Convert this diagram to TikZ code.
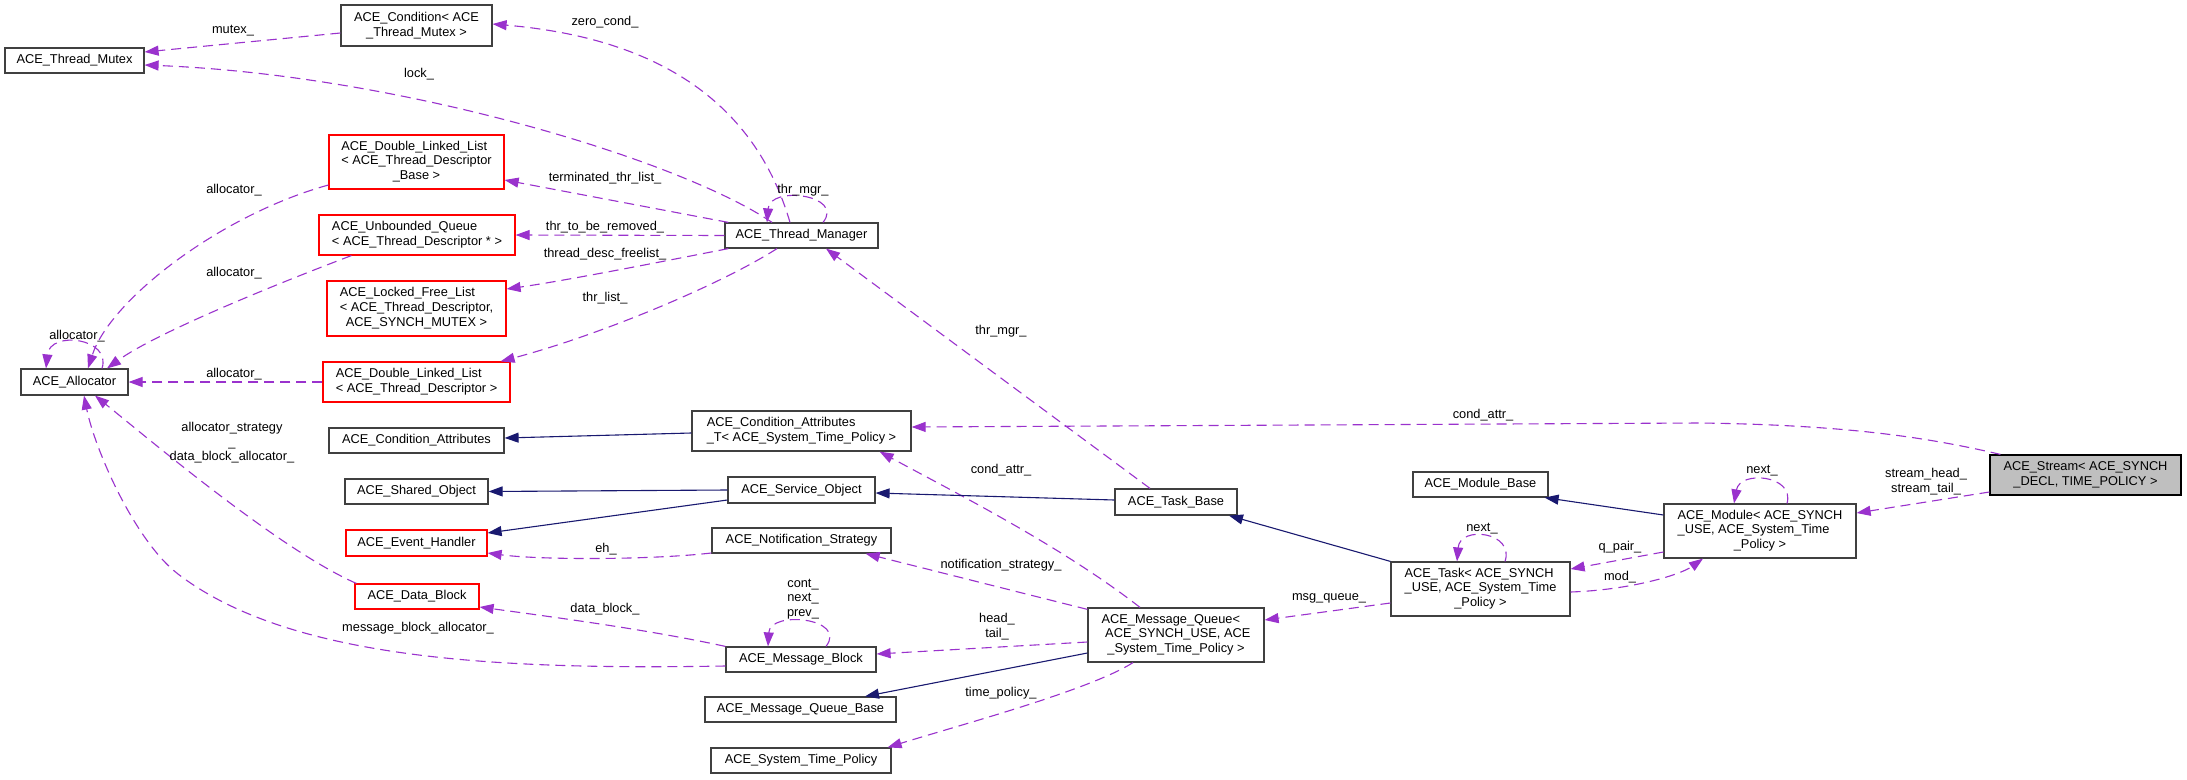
\documentclass[tikz,border=0pt]{standalone}
\usepackage{fontspec}
\setmainfont{Liberation Sans}
\usetikzlibrary{arrows.meta}
\definecolor{orchid}{RGB}{154,50,205}
\definecolor{mblue}{RGB}{25,25,112}
\definecolor{boxgray}{RGB}{64,64,64}
\definecolor{streamfill}{RGB}{191,191,191}
\newcommand{\lc}[1]{\multicolumn{1}{@{}c@{}}{#1}}
\newcommand{\boxtxt}[1]{\begin{tabular}{@{}l@{}}#1\end{tabular}}
\tikzset{
  box/.style={draw=boxgray, line width=1.2pt, fill=white, inner sep=0pt, align=center},
  redbox/.style={box, draw=red},
  use/.style={draw=orchid, line width=1.1pt, dash pattern=on 10pt off 6pt, -{Triangle[length=14pt,width=10pt]}},
  inh/.style={draw=mblue, line width=1.1pt, -{Triangle[length=14pt,width=10pt]}},
  lbl/.style={inner sep=0pt, align=center}
}
\begin{document}
\begin{tikzpicture}[x=1pt,y=-1pt,font=\fontsize{12.8pt}{14.6pt}\selectfont]
\fill[white] (0,0) rectangle (2187,779);
\useasboundingbox (0,0) rectangle (2187,779);

% ---- nodes ----
\node[box, minimum width=139pt, minimum height=25pt] (tmutex) at (74.5,60.5) {ACE\_Thread\_Mutex};
\node[box, minimum width=151pt, minimum height=41pt] (cond) at (416.5,25.5) {ACE\_Condition< ACE\\\_Thread\_Mutex >};
\node[redbox, minimum width=175pt, minimum height=54pt] (dllb) at (416.5,162) {\boxtxt{ACE\_Double\_Linked\_List\\< ACE\_Thread\_Descriptor\\\lc{\_Base >}}};
\node[redbox, minimum width=196pt, minimum height=40pt] (uq) at (417,235) {\boxtxt{ACE\_Unbounded\_Queue\\< ACE\_Thread\_Descriptor * >}};
\node[redbox, minimum width=179pt, minimum height=55pt] (lfl) at (416.5,308.5) {\boxtxt{ACE\_Locked\_Free\_List\\< ACE\_Thread\_Descriptor,\\\lc{ACE\_SYNCH\_MUTEX >}}};
\node[box, minimum width=107pt, minimum height=26pt] (alloc) at (74.5,382) {ACE\_Allocator};
\node[redbox, minimum width=187pt, minimum height=40pt] (dlld) at (416.5,382) {\boxtxt{ACE\_Double\_Linked\_List\\< ACE\_Thread\_Descriptor >}};
\node[box, minimum width=175pt, minimum height=25pt] (ca) at (416.5,440.5) {ACE\_Condition\_Attributes};
\node[box, minimum width=143pt, minimum height=25pt] (shobj) at (416.5,491.5) {ACE\_Shared\_Object};
\node[redbox, minimum width=141pt, minimum height=26pt] (eh) at (416.5,543) {ACE\_Event\_Handler};
\node[redbox, minimum width=124pt, minimum height=25pt] (db) at (417,596.5) {ACE\_Data\_Block};
\node[box, minimum width=153pt, minimum height=25pt] (tmgr) at (801.5,235.5) {ACE\_Thread\_Manager};
\node[box, minimum width=219pt, minimum height=40pt] (cat) at (801.5,431) {\boxtxt{ACE\_Condition\_Attributes\\\lc{\_T< ACE\_System\_Time\_Policy >}}};
\node[box, minimum width=147pt, minimum height=26pt] (svc) at (801.5,490) {ACE\_Service\_Object};
\node[box, minimum width=179pt, minimum height=25pt] (ns) at (801.5,540.5) {ACE\_Notification\_Strategy};
\node[box, minimum width=150pt, minimum height=25pt] (mb) at (801,659.5) {ACE\_Message\_Block};
\node[box, minimum width=191pt, minimum height=25pt] (mqb) at (800.5,709.5) {ACE\_Message\_Queue\_Base};
\node[box, minimum width=180pt, minimum height=25pt] (stp) at (801,760.5) {ACE\_System\_Time\_Policy};
\node[box, minimum width=176pt, minimum height=54pt] (mq) at (1176,635) {\boxtxt{ACE\_Message\_Queue<\\\ ACE\_SYNCH\_USE, ACE\\\lc{\_System\_Time\_Policy >}}};
\node[box, minimum width=122pt, minimum height=26pt] (tb) at (1176,502) {ACE\_Task\_Base};
\node[box, minimum width=135pt, minimum height=25pt] (mbase) at (1480.5,484.5) {ACE\_Module\_Base};
\node[box, minimum width=179pt, minimum height=54pt] (task) at (1480.5,589) {\boxtxt{ACE\_Task< ACE\_SYNCH\\\_USE, ACE\_System\_Time\\\lc{\_Policy >}}};
\node[box, minimum width=192pt, minimum height=54pt] (mod) at (1760,531) {\boxtxt{ACE\_Module< ACE\_SYNCH\\\_USE, ACE\_System\_Time\\\lc{\_Policy >}}};
\node[box, draw=black, fill=streamfill, minimum width=191pt, minimum height=40pt] (stream) at (2085.5,475) {ACE\_Stream< ACE\_SYNCH\\\_DECL, TIME\_POLICY >};

% ---- usage edges ----
\draw[use] ([shift={(0,7.5)}]cond.west) -- ([shift={(0,-8.5)}]tmutex.east);
\draw[use] ([shift={(-29.5,0)}]tmgr.north) .. controls (680,160) and (400,75) .. ([shift={(0,4.5)}]tmutex.east);
\draw[use] ([shift={(-11.5,0)}]tmgr.north) .. controls (760,120) and (680,40) .. ([shift={(0,-1.5)}]cond.east);
\draw[use] ([shift={(4,0)}]tmgr.north west) -- ([shift={(0,18)}]dllb.east);
\draw[use] (tmgr.west) -- (uq.east);
\draw[use] ([shift={(4,0)}]tmgr.south west) .. controls (680,258) and (570,280) .. ([shift={(0,-19.5)}]lfl.east);
\draw[use] ([shift={(-24.5,0)}]tmgr.south) .. controls (720,285) and (600,335) .. ([shift={(-10,0)}]dlld.north east);
\draw[use] ([shift={(21.5,0)}]tmgr.north) .. controls (845,195) and (770,185) .. ([shift={(-34.5,0)}]tmgr.north);
\draw[use] ([shift={(-26,0)}]tb.north) -- ([shift={(24.5,0)}]tmgr.south);
\draw[use] ([shift={(0,23)}]dllb.west) .. controls (220,215) and (110,300) .. ([shift={(13.5,0)}]alloc.north);
\draw[use] ([shift={(33,0)}]uq.south west) .. controls (300,275) and (160,330) .. ([shift={(32.5,0)}]alloc.north);
\draw[use] (dlld.west) -- (alloc.east);
\draw[use] ([shift={(27.5,0)}]alloc.north) .. controls (112,338) and (50,330) .. ([shift={(-28.5,0)}]alloc.north);
\draw[use] ([shift={(2,0)}]db.north west) .. controls (280,550) and (150,440) .. ([shift={(20.5,0)}]alloc.south);
\draw[use] ([shift={(0,6.5)}]mb.west) .. controls (500,670) and (290,660) .. (178,574) .. controls (135,541) and (95,450) .. ([shift={(9.5,0)}]alloc.south);
\draw[use] ([shift={(0,12.5)}]ns.west) .. controls (650,560) and (540,560) .. ([shift={(0,10)}]eh.east);
\draw[use] (mb.north west) .. controls (650,630) and (560,618) .. ([shift={(0,10.5)}]db.east);
\draw[use] ([shift={(25,0)}]mb.north) .. controls (848,618) and (770,610) .. ([shift={(-33,0)}]mb.north);
\draw[use] ([shift={(0,7)}]mq.west) -- ([shift={(0,-5.5)}]mb.east);
\draw[use] ([shift={(0,2)}]mq.north west) -- ([shift={(-26,0)}]ns.south east);
\draw[use] ([shift={(-43,0)}]mq.south) .. controls (1090,690) and (960,725) .. ([shift={(-4,0)}]stp.north east);
\draw[use] ([shift={(-36,0)}]mq.north) .. controls (1060,545) and (950,490) .. ([shift={(-32,0)}]cat.south east);
\draw[use] ([shift={(0,14)}]task.west) -- ([shift={(0,-15)}]mq.east);
\draw[use] ([shift={(24.5,0)}]task.north) .. controls (1515,532) and (1460,525) .. ([shift={(-23.5,0)}]task.north);
\draw[use] ([shift={(0,21)}]mod.west) -- ([shift={(0,-20)}]task.east);
\draw[use] ([shift={(0,3)}]task.east) .. controls (1630,590) and (1680,575) .. ([shift={(-57,0)}]mod.south);
\draw[use] ([shift={(27,0)}]mod.north) .. controls (1795,475) and (1740,470) .. ([shift={(-26,0)}]mod.north);
\draw[use] ([shift={(0,17)}]stream.west) -- ([shift={(0,-18)}]mod.east);
\draw[use] ([shift={(11,0)}]stream.north west) .. controls (1930,438) and (1850,425) .. (1700,423) -- ([shift={(0,-4)}]cat.east);

% ---- inheritance edges ----
\draw[inh] ([shift={(0,2)}]cat.west) -- ([shift={(0,-2.5)}]ca.east);
\draw[inh] (svc.west) -- (shobj.east);
\draw[inh] ([shift={(0,10)}]svc.west) -- ([shift={(0,-10)}]eh.east);
\draw[inh] ([shift={(0,-2)}]tb.west) -- ([shift={(0,3)}]svc.east);
\draw[inh] (task.north west) -- ([shift={(53,0)}]tb.south);
\draw[inh] ([shift={(0,-16)}]mod.west) -- ([shift={(-4,0)}]mbase.south east);
\draw[inh] ([shift={(0,18)}]mq.west) -- ([shift={(64.5,0)}]mqb.north);

% ---- labels ----
\node[lbl] (l1) at (233,31) {mutex\_};
\node[lbl] (l2) at (419,74) {lock\_};
\node[lbl] (l3) at (605,22) {zero\_cond\_};
\node[lbl] (l4) at (605,178) {terminated\_thr\_list\_};
\node[lbl] (l5) at (803,190) {thr\_mgr\_};
\node[lbl] (l6) at (605,227) {thr\_to\_be\_removed\_};
\node[lbl] (l7) at (605,254) {thread\_desc\_freelist\_};
\node[lbl] (l8) at (605,298) {thr\_list\_};
\node[lbl] (l9) at (1001,331) {thr\_mgr\_};
\node[lbl] (l10) at (234,190) {allocator\_};
\node[lbl] (l11) at (234,273) {allocator\_};
\node[lbl] (l12) at (77,336) {allocator\_};
\node[lbl] (l13) at (234,374) {allocator\_};
\node[lbl] (l14) at (232,443) {allocator\_strategy\\\_\\data\_block\_allocator\_};
\node[lbl] (l15) at (418,628) {message\_block\_allocator\_};
\node[lbl] (l16) at (1001,470) {cond\_attr\_};
\node[lbl] (l17) at (606,549) {eh\_};
\node[lbl] (l18) at (1001,565) {notification\_strategy\_};
\node[lbl] (l19) at (605,609) {data\_block\_};
\node[lbl] (l20) at (803,599) {cont\_\\next\_\\prev\_};
\node[lbl] (l21) at (997,626.5) {head\_\\tail\_};
\node[lbl] (l22) at (1001,693) {time\_policy\_};
\node[lbl] (l23) at (1483,415) {cond\_attr\_};
\node[lbl] (l24) at (1482,529) {next\_};
\node[lbl] (l25) at (1620,547) {q\_pair\_};
\node[lbl] (l26) at (1620,577) {mod\_};
\node[lbl] (l27) at (1329,598) {msg\_queue\_};
\node[lbl] (l28) at (1762,471) {next\_};
\node[lbl] (l29) at (1926,481.5) {stream\_head\_\\stream\_tail\_};
\end{tikzpicture}
\end{document}
